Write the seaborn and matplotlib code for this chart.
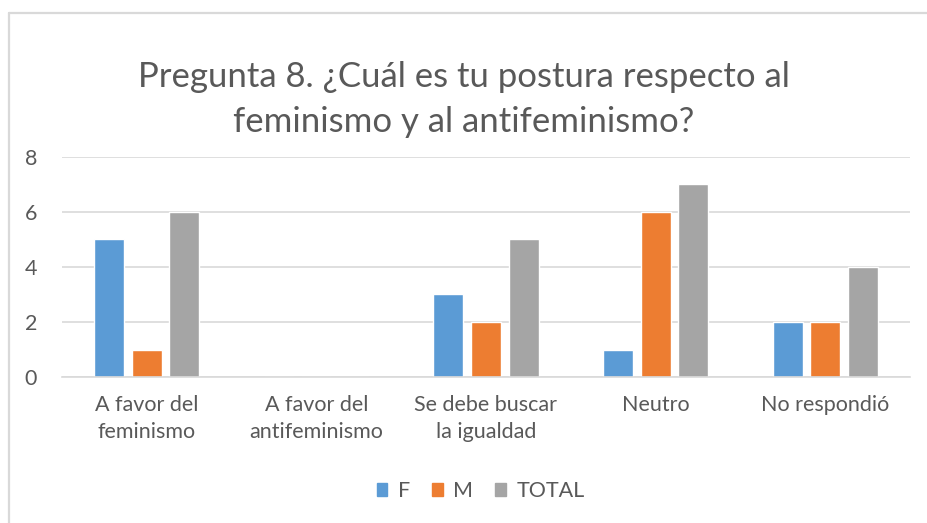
import pandas as pd
import matplotlib.pyplot as plt
import seaborn as sns
from matplotlib.patches import Rectangle
from matplotlib.lines import Line2D

categories = [
    "A favor del\nfeminismo",
    "A favor del\nantifeminismo",
    "Se debe buscar\nla igualdad",
    "Neutro",
    "No respondió",
]
f_values = [5, 0, 3, 1, 2]
m_values = [1, 0, 2, 6, 2]
total_values = [6, 0, 5, 7, 4]
series_names = ["F", "M", "TOTAL"]
colors = ["#5B9BD5", "#ED7D31", "#A5A5A5"]
TEXT = "#595959"


def build_df():
    rows = []
    for name, vals in zip(series_names, [f_values, m_values, total_values]):
        for cat, v in zip(categories, vals):
            rows.append({"categoria": cat, "serie": name, "valor": v})
    return pd.DataFrame(rows)


def main():
    sns.set_style("white")
    plt.rcParams["font.family"] = ["Lato", "DejaVu Sans"]

    df = build_df()
    W, H = 928, 523
    fig = plt.figure(figsize=(W / 100, H / 100), dpi=100)
    ax = fig.add_axes([0.0668, 0.279, 0.9138, 0.4212])

    sns.barplot(data=df, x="categoria", y="valor", hue="serie",
                palette=colors, width=0.665, gap=0.2, ax=ax,
                saturation=1, legend=False)

    ax.set_ylim(0, 8)
    ax.set_xlim(-0.5, len(categories) - 0.5)
    ax.set_yticks([0, 2, 4, 6, 8])
    ax.yaxis.grid(True, color="#D9D9D9", linewidth=1.2)
    ax.set_axisbelow(True)
    for s in ["top", "right", "left"]:
        ax.spines[s].set_visible(False)
    ax.spines["bottom"].set_color("#D9D9D9")
    ax.spines["bottom"].set_linewidth(1.2)
    ax.tick_params(axis="both", length=0, labelsize=15.5, colors=TEXT)
    ax.tick_params(axis="x", pad=13)
    ax.tick_params(axis="y", pad=18)
    for lbl in ax.get_xticklabels():
        lbl.set_linespacing(1.45)
    ax.set_xlabel("")
    ax.set_ylabel("")

    fig.text(0.5, 0.81, "Pregunta 8. ¿Cuál es tu postura respecto al\nfeminismo y al antifeminismo?",
             ha="center", va="center", fontsize=25, color=TEXT, linespacing=1.5)

    handles = [Rectangle((0, 0), 1, 1, color=c) for c in colors]
    fig.legend(handles, series_names, loc="center", bbox_to_anchor=(0.518, 0.061),
               ncol=3, frameon=False, fontsize=15.5, handlelength=0.5, handleheight=0.5,
               columnspacing=1.0, handletextpad=0.5, labelcolor=TEXT)

    # chart frame: only left and top edges are inside the picture
    x0, y0 = 9.5 / W, 1 - 12.5 / H
    fig.lines.append(Line2D([x0, x0], [0, y0], transform=fig.transFigure,
                            color="#D9D9D9", linewidth=1.6))
    fig.lines.append(Line2D([x0, 1], [y0, y0], transform=fig.transFigure,
                            color="#D9D9D9", linewidth=1.6))

    fig.savefig("out.png", dpi=100)


if __name__ == "__main__":
    main()
